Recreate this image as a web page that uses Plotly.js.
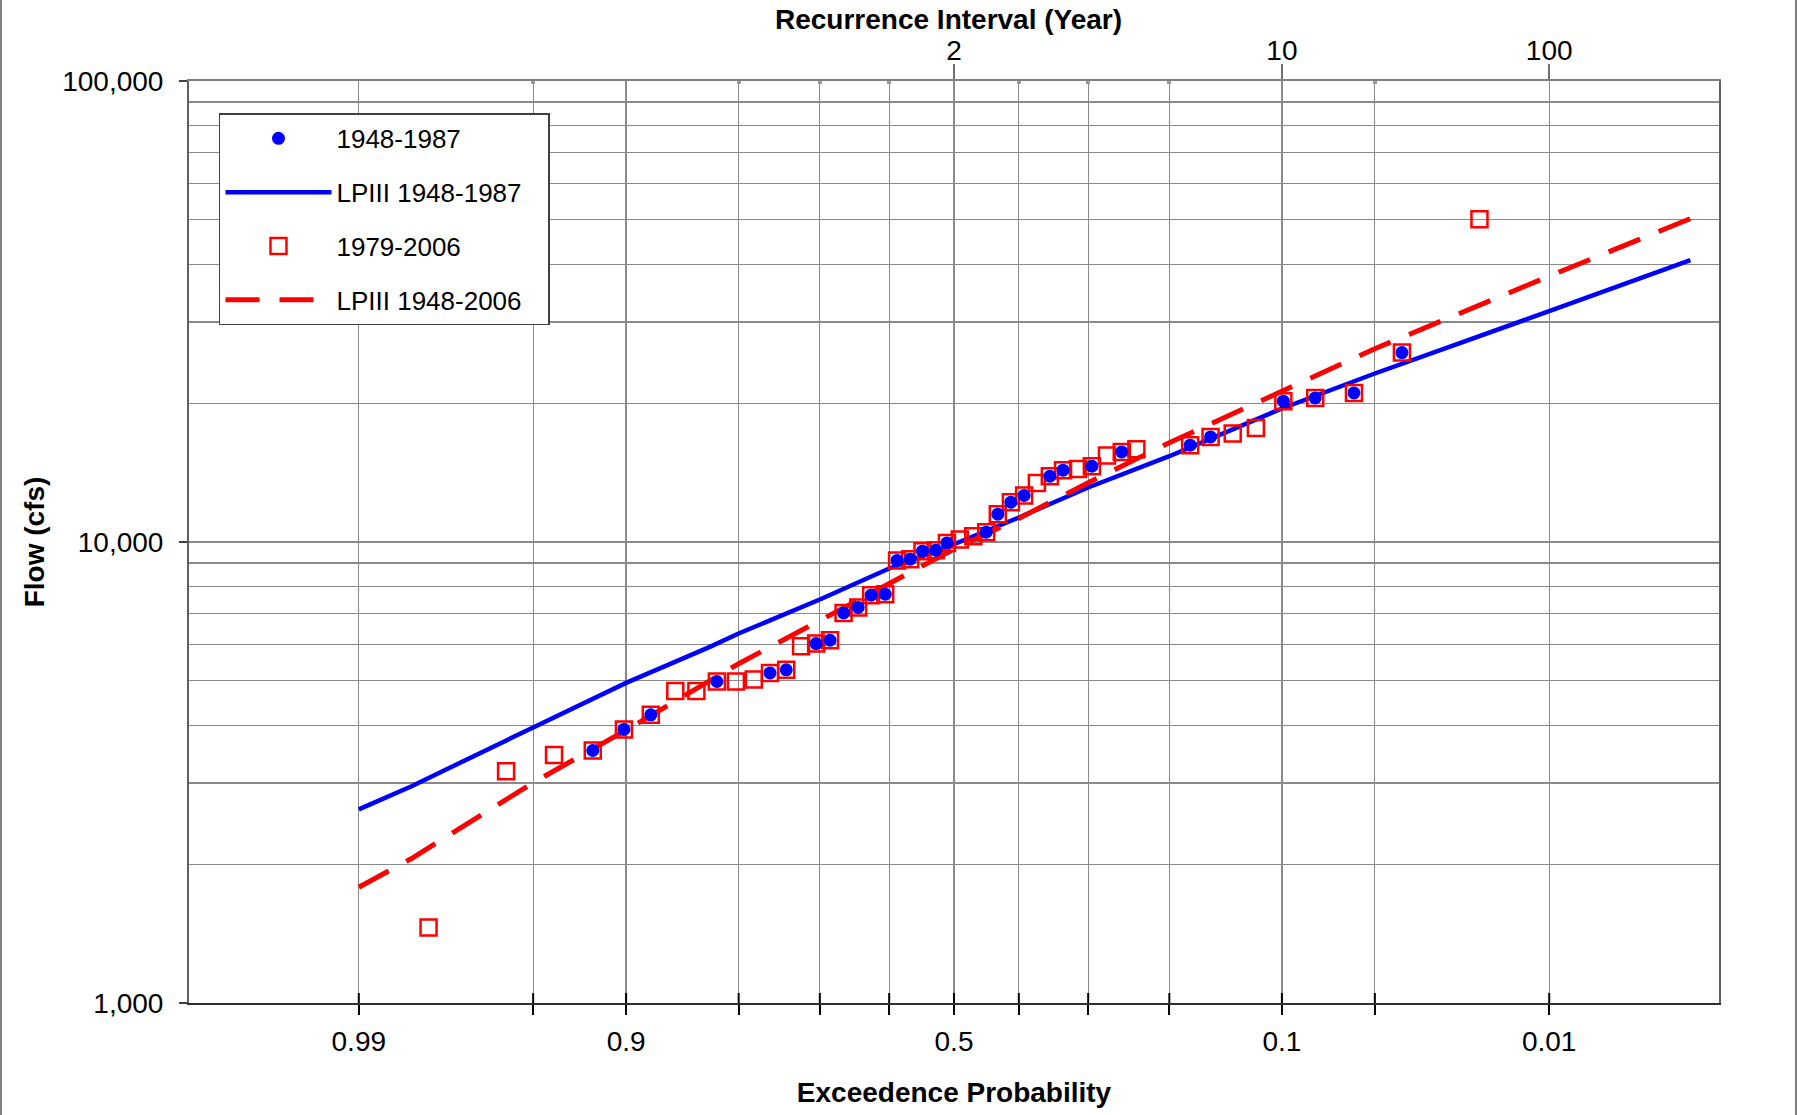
<!DOCTYPE html>
<html>
<head>
<meta charset="utf-8">
<script src="https://cdn.plot.ly/plotly-3.0.1.min.js"></script>
<style>html,body{margin:0;padding:0;background:#fff;}#chart{width:1797px;height:1115px;}</style>
</head>
<body>
<div id="chart"></div>
<script>
// ---- data (exceedance probability / flow in cfs) ----
const sqProb = [0.980, 0.960, 0.941, 0.921, 0.9015, 0.882, 0.862, 0.843, 0.823, 0.803, 0.783, 0.764, 0.744, 0.725, 0.705, 0.686, 0.667, 0.646, 0.627, 0.606, 0.588, 0.568, 0.549, 0.5285, 0.511, 0.491, 0.470, 0.450, 0.432, 0.412, 0.392, 0.373, 0.354, 0.335, 0.314, 0.295, 0.275, 0.256, 0.238, 0.178, 0.158, 0.138, 0.119, 0.099, 0.079, 0.059, 0.040, 0.020];
const sqFlow = [1458, 3183, 3452, 3530, 3921, 4217, 4754, 4754, 4982, 4982, 5031, 5200, 5280, 5943, 6022, 6122, 7016, 7211, 7666, 7705, 9120, 9177, 9551, 9598, 9955, 10125, 10294, 10503, 11490, 12200, 12616, 13430, 13889, 14312, 14407, 14601, 15400, 15683, 15895, 16220, 16905, 17197, 17683, 20204, 20540, 21059, 25763, 50120];

const dotProb = [0.921, 0.9015, 0.882, 0.823, 0.764, 0.744, 0.705, 0.686, 0.667, 0.646, 0.627, 0.606, 0.588, 0.568, 0.549, 0.5285, 0.511, 0.450, 0.432, 0.412, 0.392, 0.354, 0.335, 0.295, 0.256, 0.178, 0.158, 0.099, 0.079, 0.059, 0.040];
const dotFlow = [3530, 3921, 4217, 4982, 5200, 5280, 6022, 6122, 7016, 7211, 7666, 7705, 9120, 9177, 9551, 9598, 9955, 10503, 11490, 12200, 12616, 13889, 14312, 14601, 15683, 16220, 16905, 20204, 20540, 21059, 25763];

const blueProb = [0.99, 0.983, 0.95, 0.9, 0.83, 0.8, 0.7, 0.6, 0.5, 0.4, 0.3, 0.2, 0.1, 0.05, 0.01, 0.002];
const blueFlow = [2630, 2953, 3960, 4948, 5922, 6331, 7505, 8761, 9890, 11300, 13130, 15350, 19480, 23200, 31670, 40870];

const redProb = [0.99, 0.983, 0.95, 0.9, 0.8, 0.7, 0.6, 0.5, 0.4, 0.3, 0.2, 0.1, 0.05, 0.01, 0.002];
const redFlow = [1783, 2058, 3006, 3907, 5445, 6767, 8128, 9650, 11250, 13450, 16420, 21260, 26260, 37730, 50300];

// ---- ticks ----
const probLabeled = [0.99, 0.9, 0.5, 0.1, 0.01];
const probLabelText = ['0.99', '0.9', '0.5', '0.1', '0.01'];
const probMinor = [0.95, 0.8, 0.7, 0.6, 0.4, 0.3, 0.2, 0.05];
const recurYears = [2, 10, 100];
const recurText = ['2', '10', '100'];
const flowTicks = [1000, 10000, 100000];
const flowTickText = ['1,000', '10,000', '100,000'];
const flowMinor = [2000, 3000, 4000, 5000, 6000, 7000, 8000, 9000, 20000, 30000, 40000, 50000, 60000, 70000, 80000, 90000];

// inverse standard normal CDF (Acklam)
function norminv(p) {
  const a=[-3.969683028665376e+01,2.209460984245205e+02,-2.759285104469687e+02,1.383577518672690e+02,-3.066479806614716e+01,2.506628277459239e+00];
  const b=[-5.447609879822406e+01,1.615858368580409e+02,-1.556989798598866e+02,6.680131188771972e+01,-1.328068155288572e+01];
  const c=[-7.784894002430293e-03,-3.223964580411365e-01,-2.400758277161838e+00,-2.549732539343734e+00,4.374664141464968e+00,2.938163982698783e+00];
  const d=[7.784695709041462e-03,3.224671290700398e-01,2.445134137142996e+00,3.754408661907416e+00];
  const pl=0.02425, ph=1-pl; let q, r;
  if (p < pl) { q=Math.sqrt(-2*Math.log(p)); return (((((c[0]*q+c[1])*q+c[2])*q+c[3])*q+c[4])*q+c[5])/((((d[0]*q+d[1])*q+d[2])*q+d[3])*q+1); }
  if (p <= ph) { q=p-0.5; r=q*q; return (((((a[0]*r+a[1])*r+a[2])*r+a[3])*r+a[4])*r+a[5])*q/(((((b[0]*r+b[1])*r+b[2])*r+b[3])*r+b[4])*r+1); }
  q=Math.sqrt(-2*Math.log(1-p)); return -(((((c[0]*q+c[1])*q+c[2])*q+c[3])*q+c[4])*q+c[5])/((((d[0]*q+d[1])*q+d[2])*q+d[3])*q+1);
}
// exceedance probability -> normal score (probability-paper position)
const zx = p => norminv(1 - p);
const zs = arr => arr.map(zx);

const allProb = probLabeled.concat(probMinor);
const allText = probLabelText.concat(probMinor.map(() => ''));

const FONT = 'Liberation Sans, Arial, sans-serif';
const GRID = '#8a8a8a';
const XR = [-2.99, 2.99];
const PAD = '\u00a0\u00a0\u00a0';

const traces = [
  {x: zs(blueProb), y: blueFlow, type: 'scatter', mode: 'lines', name: 'LPIII 1948-1987' + PAD,
   line: {color: '#0000ff', width: 4.5}, legendrank: 2, legendgroup: 'b'},
  {x: zs(redProb), y: redFlow, type: 'scatter', mode: 'lines', name: 'LPIII 1948-2006' + PAD,
   line: {color: '#ff0000', width: 5, dash: '34px,20px'}, legendrank: 4, legendgroup: 'd'},
  {x: zs(sqProb), y: sqFlow, type: 'scatter', mode: 'markers', name: '1979-2006',
   marker: {symbol: 'square-open', size: 16, color: '#ff0000', line: {width: 2.5, color: '#ff0000'}}, legendrank: 3, legendgroup: 'c'},
  {x: zs(dotProb), y: dotFlow, type: 'scatter', mode: 'markers', name: '1948-1987',
   marker: {symbol: 'circle', size: 13, color: '#0000ff'}, legendrank: 1, legendgroup: 'a'},
  {x: [], y: [], xaxis: 'x2', showlegend: false, hoverinfo: 'skip'}
];

// inner half of the crossing probability-axis ticks (positioned on the data x scale)
const innerTicks = zs(allProb).map(z => ({
  type: 'line', xref: 'x', yref: 'paper', x0: z, x1: z, y0: 0, y1: 10 / 922,
  line: {color: '#000', width: 2}, layer: 'above'
}));

const layout = {
  width: 1797, height: 1115,
  margin: {l: 189, r: 78, t: 81, b: 112},
  paper_bgcolor: '#ffffff', plot_bgcolor: '#ffffff',
  font: {family: FONT, color: '#000', size: 28},
  showlegend: true,
  legend: {
    x: 0.0196, y: 0.9648, xanchor: 'left', yanchor: 'top',
    bgcolor: '#ffffff', bordercolor: '#404040', borderwidth: 1.5,
    font: {family: FONT, size: 26, color: '#000'},
    traceorder: 'grouped', tracegroupgap: 17, itemwidth: 106
  },
  xaxis: {
    range: XR, type: 'linear',
    tickmode: 'array', tickvals: zs(allProb), ticktext: allText,
    ticks: 'outside', ticklen: 10, tickwidth: 2, tickcolor: '#000',
    ticklabelstandoff: 2,
    tickfont: {family: FONT, size: 28},
    showgrid: true, gridcolor: GRID, gridwidth: 1.3, zeroline: false,
    showline: true, linecolor: '#303030', linewidth: 2,
    title: {text: '<b>Exceedence Probability</b>', font: {family: FONT, size: 28}, standoff: 27}
  },
  xaxis2: {
    range: XR, overlaying: 'x', side: 'top', anchor: 'y',
    tickmode: 'array', tickvals: recurYears.map(t => zx(1 / t)), ticktext: recurText,
    ticks: 'outside', ticklen: 15, tickwidth: 1.5, tickcolor: '#707070',
    ticklabelstandoff: -7,
    tickfont: {family: FONT, size: 28},
    minor: {tickmode: 'array', tickvals: zs(probMinor), ticks: 'inside', ticklen: 3, tickwidth: 4, tickcolor: '#999999', showgrid: false},
    showgrid: false, zeroline: false,
    showline: true, linecolor: '#808080', linewidth: 2
  },
  yaxis: {
    type: 'log', range: [3, 5],
    tickmode: 'array', tickvals: flowTicks, ticktext: flowTickText,
    ticks: 'outside', ticklen: 8, tickwidth: 1.5, tickcolor: '#404040',
    ticklabelstandoff: 10,
    tickfont: {family: FONT, size: 28},
    showgrid: true, gridcolor: GRID, gridwidth: 1.3, zeroline: false,
    minor: {tickmode: 'array', tickvals: flowMinor, showgrid: true, gridcolor: GRID, gridwidth: 1.3, ticks: ''},
    showline: true, linecolor: '#606060', linewidth: 2, mirror: true,
    title: {text: '<b>Flow (cfs)</b>', font: {family: FONT, size: 28}, standoff: 9}
  },
  annotations: [
    {text: '<b>Recurrence Interval (Year)</b>', xref: 'paper', yref: 'paper', x: 0.4967, y: (1002.8 - 19.5) / 922,
     xanchor: 'center', yanchor: 'middle', showarrow: false, font: {family: FONT, size: 28, color: '#000'}}
  ],
  shapes: innerTicks.concat([
    {type: 'line', xref: 'paper', yref: 'paper', x0: (1 - 189) / 1530, x1: (1 - 189) / 1530, y0: -0.125, y1: 1.09, line: {color: '#808080', width: 2}},
    {type: 'line', xref: 'paper', yref: 'paper', x0: (1796 - 189) / 1530, x1: (1796 - 189) / 1530, y0: -0.125, y1: 1.09, line: {color: '#808080', width: 2}}
  ])
};

Plotly.newPlot('chart', traces, layout, {displayModeBar: false, staticPlot: true});
</script>
</body>
</html>
